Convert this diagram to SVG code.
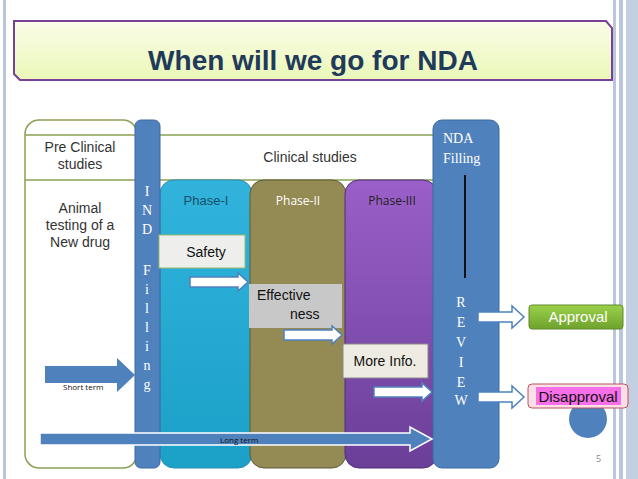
<svg xmlns="http://www.w3.org/2000/svg" width="638" height="479" viewBox="0 0 638 479">
<defs>
<style>
.s{font-family:"Liberation Sans",Arial,sans-serif}
.o{font-family:"Open Sans","DejaVu Sans",sans-serif}
.r{font-family:"Liberation Serif","Times New Roman",serif}
.bar{fill:#4f81bd;stroke:#3b6aa0;stroke-width:1}
.wa{fill:#fff;stroke:#4f81bd;stroke-width:1.5}
</style>
<linearGradient id="gt" x1="0" y1="0" x2="0" y2="1"><stop offset="0" stop-color="#fbfde8"/><stop offset="1" stop-color="#eaf7b8"/></linearGradient>
<linearGradient id="g1" x1="0" y1="0" x2="0" y2="1"><stop offset="0" stop-color="#31b3dc"/><stop offset="1" stop-color="#1ba0c8"/></linearGradient>
<linearGradient id="g3" x1="0" y1="0" x2="0" y2="1"><stop offset="0" stop-color="#9a5fc8"/><stop offset="1" stop-color="#6a3f98"/></linearGradient>
<linearGradient id="ga" x1="0" y1="0" x2="0" y2="1"><stop offset="0" stop-color="#9bd14a"/><stop offset="1" stop-color="#6ea22c"/></linearGradient>
</defs>
<rect width="638" height="479" fill="#fff"/>
<g id="frame">
<rect x="3" y="0" width="3" height="479" fill="#b9c6dc"/>
<rect x="613" y="0" width="3" height="479" fill="#b9c6dc"/>
<rect x="619" y="0" width="4" height="479" fill="#b9c6dc"/>
<rect x="626" y="0" width="12" height="479" fill="#c3cfe3"/>
</g>
<g id="title">
<polygon points="14,21 606,21 612,28 612,80 20,80 14,74" fill="url(#gt)" stroke="#7a3f96" stroke-width="2"/>
<text x="313" y="70" text-anchor="middle" class="s" font-size="28" font-weight="bold" fill="#1f3a5a">When will we go for NDA</text>
</g>
<g id="preclinical">
<rect x="25" y="120" width="112" height="348" rx="14" fill="#fff" stroke="#8aa055" stroke-width="1.5"/>
<line x1="25" y1="135" x2="440" y2="135" stroke="#8aa055" stroke-width="1.5"/>
<line x1="25" y1="180" x2="440" y2="180" stroke="#8aa055" stroke-width="1.5"/>
<text class="s" font-size="14" fill="#333" text-anchor="middle"><tspan x="80" y="152">Pre Clinical</tspan><tspan x="80" y="169">studies</tspan></text>
<text class="s" font-size="14" fill="#333" text-anchor="middle"><tspan x="80" y="213">Animal</tspan><tspan x="80" y="230">testing of a</tspan><tspan x="80" y="247">New drug</tspan></text>
<text x="310" y="162" class="s" font-size="14" fill="#333" text-anchor="middle">Clinical studies</text>
</g>
<g id="phase1"><rect x="160" y="180" width="92" height="288" rx="14" fill="url(#g1)" stroke="#2a8fb0"/>
<text x="206" y="205" class="s" font-size="13" fill="#15506a" text-anchor="middle">Phase-I</text></g>
<g id="phase2"><rect x="250" y="180" width="96" height="288" rx="14" fill="#948a54" stroke="#5f5a3a"/>
<text x="298" y="205" class="o" font-size="12" fill="#fff" text-anchor="middle">Phase-II</text></g>
<g id="phase3"><rect x="345" y="180" width="92" height="288" rx="14" fill="url(#g3)" stroke="#4f2f78"/>
<text x="392" y="205" class="o" font-size="12" fill="#222" text-anchor="middle">Phase-III</text></g>
<g id="ind"><rect x="135" y="120" width="25" height="348" rx="6" class="bar"/>
<text class="r" font-size="14" fill="#fff" text-anchor="middle"><tspan x="147" y="196">I</tspan><tspan x="147" y="215">N</tspan><tspan x="147" y="234">D</tspan><tspan x="147" y="275">F</tspan><tspan x="147" y="294">i</tspan><tspan x="147" y="313">l</tspan><tspan x="147" y="332">l</tspan><tspan x="147" y="351">i</tspan><tspan x="147" y="370">n</tspan><tspan x="147" y="389">g</tspan></text></g>
<g id="nda"><rect x="433" y="120" width="66" height="348" rx="9" class="bar"/>
<text class="r" font-size="14" fill="#fff"><tspan x="443" y="143">NDA</tspan><tspan x="443" y="163">Filling</tspan></text>
<line x1="465" y1="175" x2="465" y2="278" stroke="#111" stroke-width="2"/>
<text class="r" font-size="14" fill="#fff" text-anchor="middle"><tspan x="461" y="307">R</tspan><tspan x="461" y="327">E</tspan><tspan x="461" y="347">V</tspan><tspan x="461" y="367">I</tspan><tspan x="461" y="387">E</tspan><tspan x="461" y="405">W</tspan></text></g>
<g id="safety"><rect x="159" y="235" width="86" height="33" fill="#eeeeec" stroke="#9ab86a"/>
<text x="206" y="257" class="s" font-size="14" fill="#111" text-anchor="middle">Safety</text></g>
<g id="effectiveness"><rect x="249" y="284" width="93" height="44" fill="#c8c8c8"/>
<text class="s" font-size="14" fill="#111"><tspan x="257" y="300">Effective</tspan><tspan x="290" y="319">ness</tspan></text></g>
<g id="moreinfo"><rect x="343" y="344" width="85" height="34" fill="#eeece2" stroke="#888"/>
<text x="385" y="366" class="s" font-size="14" fill="#111" text-anchor="middle">More Info.</text></g>
<g id="approval"><rect x="529" y="305" width="94" height="24" rx="3" fill="url(#ga)" stroke="#5f8a2a"/>
<text x="578" y="322" class="s" font-size="15" fill="#fff" text-anchor="middle">Approval</text></g>
<circle cx="588" cy="419" r="19" fill="#4f81bd"/>
<g id="disapproval"><rect x="528" y="384" width="100" height="24" rx="4" fill="#fbe0e6" stroke="#c05060"/>
<rect x="536" y="387" width="85" height="18" fill="#f66ee8"/>
<text x="578" y="402" class="s" font-size="15" fill="#111" text-anchor="middle">Disapproval</text></g>
<g id="connectors">
<polygon points="190,277 238,277 238,273 248,282 238,291 238,287 190,287" class="wa"/>
<polygon points="284,330 332,330 332,326 342,335 332,344 332,340 284,340" class="wa"/>
<polygon points="374,387 422,387 422,383 432,392 422,401 422,397 374,397" class="wa"/>
<polygon points="478,312 512,312 512,306 524,317 512,328 512,322 478,322" class="wa"/>
<polygon points="478,392 512,392 512,386 524,397 512,408 512,402 478,402" class="wa"/>
<polygon points="45,366 117,366 117,358 135,375 117,392 117,383 45,383" fill="#4f81bd"/>
<polygon points="40,433 410,433 410,427 432,439 410,451 410,445 40,445" fill="#4f81bd" stroke="#fff" stroke-width="1.5"/>
</g>
<text x="63" y="390" class="o" font-size="8" fill="#111">Short term</text>
<text x="220" y="443" class="o" font-size="8" fill="#111">Long term</text>
<text x="596" y="462" class="o" font-size="9" fill="#888">5</text>
</svg>
